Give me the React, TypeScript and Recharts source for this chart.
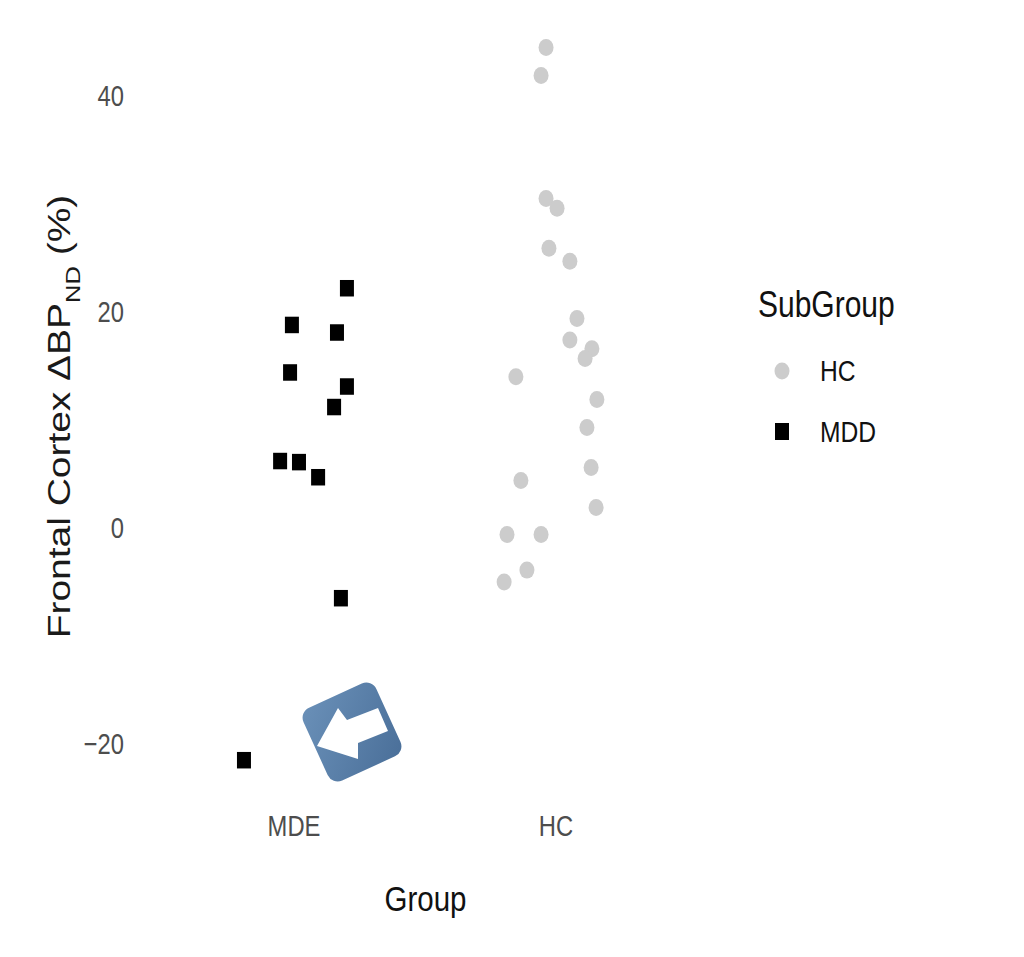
import React from "react";
import { ScatterChart, Scatter, XAxis, YAxis, Legend } from "recharts";

const groupTicks = [1, 2];
const groupLabels = ["MDE", "HC"];
const valueTicks = [-20, 0, 20, 40];

const hcX = [1.962, 1.943, 1.962, 2.004, 1.973, 2.053, 2.08, 2.053, 2.137, 2.111, 1.847, 2.156, 2.118, 2.134, 1.866, 2.153, 1.813, 1.943, 1.889, 1.802];
const hcY = [44.5, 41.9, 30.5, 29.6, 25.9, 24.7, 19.4, 17.4, 16.6, 15.7, 14.0, 11.9, 9.3, 5.6, 4.4, 1.9, -0.6, -0.6, -3.9, -5.0];
const mddX = [1.202, 0.992, 1.164, 0.985, 1.202, 1.153, 0.947, 1.019, 1.092, 1.179, 0.809];
const mddY = [22.2, 18.8, 18.1, 14.4, 13.1, 11.2, 6.2, 6.1, 4.7, -6.5, -21.5];

const hcData = hcX.map((x, i) => ({ x, y: hcY[i] }));
const mddData = mddX.map((x, i) => ({ x, y: mddY[i] }));

const SANS = "'Liberation Sans', Arial, sans-serif";
const HC_COLOR = "#cccccc";
const SQUEEZE = 0.82;

const Dot = (p: any) => <ellipse cx={p.cx} cy={p.cy} rx={7.5} ry={8.5} fill={HC_COLOR} />;
const Sq = (p: any) => <rect x={p.cx - 7} y={p.cy - 8.25} width={14} height={16.5} fill="#000" />;

const XTick = (p: any) => (
  <text
    transform={`translate(${p.x},${p.y + 22}) scale(${SQUEEZE},1)`}
    textAnchor="middle"
    fontFamily={SANS}
    fontSize={29}
    fill="#4d4d4d"
  >
    {groupLabels[p.payload.value - 1]}
  </text>
);

const YTick = (p: any) => (
  <text
    transform={`translate(${p.x},${p.y + 10}) scale(${SQUEEZE},1)`}
    textAnchor="end"
    fontFamily={SANS}
    fontSize={29}
    fill="#4d4d4d"
  >
    {p.payload.value < 0 ? `\u2212${Math.abs(p.payload.value)}` : `${p.payload.value}`}
  </text>
);

const XLabel = () => (
  <text
    transform={`translate(425.5,911) scale(${SQUEEZE},1)`}
    textAnchor="middle"
    fontFamily={SANS}
    fontSize={36}
    fill="#111"
  >
    Group
  </text>
);

const YLabel = () => (
  <text
    transform="translate(70,416.5) rotate(-90) scale(1.217,1)"
    textAnchor="middle"
    fontFamily={SANS}
    fontSize={32}
    fill="#1a1a1a"
  >
    Frontal Cortex ΔBP
    <tspan fontSize={21} dy={10}>ND</tspan>
    <tspan dy={-10}> (%)</tspan>
  </text>
);

const squeezed: React.CSSProperties = {
  position: "absolute",
  transform: `scaleX(${SQUEEZE})`,
  transformOrigin: "left top",
  whiteSpace: "nowrap",
};

const LegendBox = () => (
  <div style={{ fontFamily: SANS, color: "#111", position: "relative", width: 200, height: 170 }}>
    <div style={{ ...squeezed, left: 0, top: 0, fontSize: 36.6, lineHeight: "42px" }}>SubGroup</div>
    <svg style={{ position: "absolute", left: 0, top: 0 }} width={60} height={170}>
      <ellipse cx={24} cy={87} rx={7.5} ry={8.5} fill={HC_COLOR} />
      <rect x={17} y={139} width={14} height={17} fill="#000" />
    </svg>
    <div style={{ ...squeezed, left: 62, top: 69, fontSize: 30, lineHeight: "36px" }}>HC</div>
    <div style={{ ...squeezed, left: 62, top: 130, fontSize: 30, lineHeight: "36px" }}>MDD</div>
  </div>
);

export default function App() {
  return (
    <div style={{ position: "absolute", left: 0, top: 0, width: 1024, height: 957, background: "#fff", overflow: "hidden" }}>
      <ScatterChart width={1024} height={957} margin={{ top: 30, right: 324, bottom: 0, left: 0 }}>
        <XAxis
          type="number"
          dataKey="x"
          domain={[0.4122, 2.5496]}
          ticks={groupTicks}
          axisLine={false}
          tickLine={false}
          tickSize={0}
          tickMargin={14}
          height={157}
          tick={<XTick />}
          label={{ content: <XLabel /> }}
        />
        <YAxis
          type="number"
          dataKey="y"
          domain={[-25.185, 46.11]}
          ticks={valueTicks}
          axisLine={false}
          tickLine={false}
          tickSize={0}
          tickMargin={16}
          width={140}
          tick={<YTick />}
          label={{ content: <YLabel /> }}
        />
        <Scatter name="HC" data={hcData} shape={Dot} isAnimationActive={false} />
        <Scatter name="MDD" data={mddData} shape={Sq} isAnimationActive={false} />
        <Legend
          layout="vertical"
          align="center"
          verticalAlign="middle"
          content={<LegendBox />}
          wrapperStyle={{ left: 758, top: 284, width: 200, height: 170, right: "auto", bottom: "auto", margin: 0 }}
        />
      </ScatterChart>
      <svg style={{ position: "absolute", left: 0, top: 0, pointerEvents: "none" }} width={1024} height={957}>
        <defs>
          <linearGradient id="icon" x1="0" y1="0" x2="1" y2="1">
            <stop offset="0" stopColor="#6a90b8" />
            <stop offset="1" stopColor="#4a6f99" />
          </linearGradient>
        </defs>
        <rect x={312} y={692} width={80} height={80} rx={11} fill="url(#icon)" transform="rotate(-24.5 352 732)" />
        <polygon points="317,746 338,708 347,720 378,708 388,731 358,743 358,759" fill="#fff" />
      </svg>
    </div>
  );
}
